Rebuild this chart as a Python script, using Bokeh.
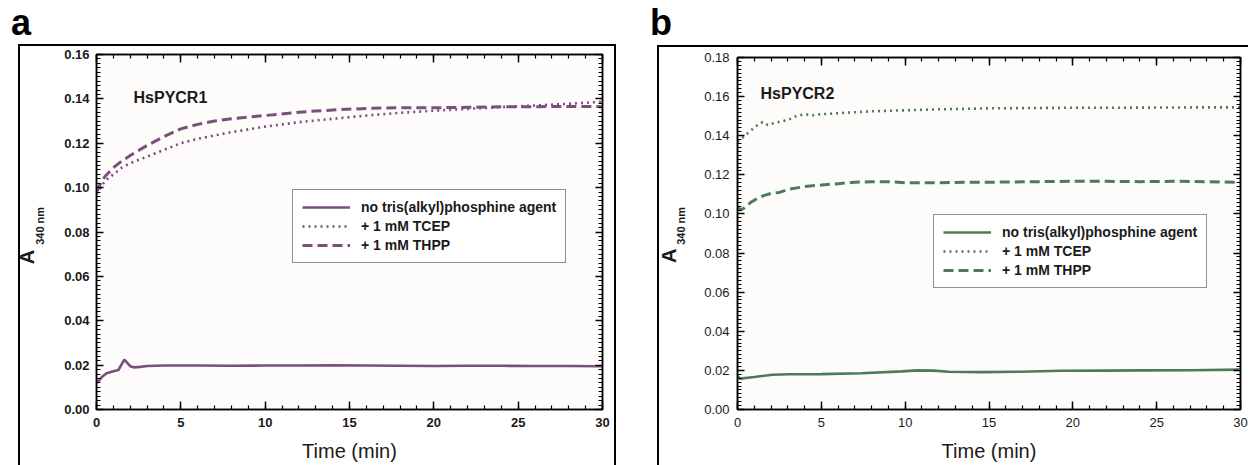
import numpy as np
from bokeh.plotting import figure
from bokeh.models import (LinearAxis, FixedTicker, NumeralTickFormatter, CustomJSTickFormatter,
                          Legend, LegendItem, Label, Range1d, Div)
from bokeh.layouts import row, column
from bokeh.embed import file_html
from bokeh.resources import INLINE

FONT = "Liberation Sans"
NB = "\u00a0"

# ---------------- data ----------------
x_ticks = [0, 5, 10, 15, 20, 25, 30]

# Panel a: HsPYCR1
a_none_t = [0, 0.3, 0.6, 1.0, 1.3, 1.65, 2.0, 2.2, 2.6, 3, 4, 6, 8, 10, 12, 14, 16, 18, 20, 22, 24, 26, 28, 30]
a_none_y = [0.0117, 0.0145, 0.0163, 0.0172, 0.0178, 0.0225, 0.0195, 0.019, 0.0192, 0.0196, 0.0198, 0.0198, 0.0197,
            0.0198, 0.0198, 0.0199, 0.0198, 0.0197, 0.0196, 0.0197, 0.0197, 0.0196, 0.0196, 0.0195]
a_tcep_t = [0, 0.25, 0.5, 1, 1.5, 2, 3, 4, 5, 6, 7, 8, 10, 12, 14, 16, 18, 20, 22, 24, 26, 28, 30]
a_tcep_y = [0.097, 0.100, 0.103, 0.106, 0.109, 0.111, 0.114, 0.117, 0.120, 0.122, 0.1235, 0.125, 0.1275,
            0.1295, 0.131, 0.1325, 0.1337, 0.1347, 0.1355, 0.1363, 0.137, 0.1378, 0.1387]
a_thpp_t = [0, 0.25, 0.5, 1, 1.5, 2, 3, 4, 5, 6, 7, 8, 10, 12, 14, 16, 18, 20, 22, 24, 26, 28, 30]
a_thpp_y = [0.098, 0.102, 0.105, 0.109, 0.112, 0.1145, 0.119, 0.123, 0.1265, 0.1285, 0.130, 0.131, 0.1325,
            0.134, 0.135, 0.1357, 0.136, 0.136, 0.1362, 0.1364, 0.1365, 0.1366, 0.1365]

# Panel b: HsPYCR2
b_none_t = [0, 0.17, 1.0, 2.1, 3.1, 5, 7.4, 9.8, 10.7, 11.7, 12.6, 14.6, 16.9, 19.3, 22, 24.1, 27, 30]
b_none_y = [0.0172, 0.0158, 0.0166, 0.0178, 0.018, 0.0181, 0.0185, 0.0195, 0.0200, 0.0199, 0.0193, 0.0191,
            0.0193, 0.0198, 0.0199, 0.0200, 0.0201, 0.0204]
b_tcep_t = [0, 0.3, 0.7, 1.2, 1.5, 1.8, 2.2, 3, 3.5, 4, 4.5, 5, 6, 7, 8, 10, 12, 15, 18, 20, 22, 25, 28, 30]
b_tcep_y = [0.137, 0.139, 0.142, 0.1455, 0.147, 0.1455, 0.1465, 0.148, 0.150, 0.151, 0.1505, 0.151, 0.1515,
            0.152, 0.1525, 0.153, 0.1535, 0.154, 0.1542, 0.1543, 0.1543, 0.1544, 0.1545, 0.1545]
b_thpp_t = [0, 0.15, 0.4, 0.8, 1.2, 1.6, 2, 2.5, 3, 4, 5, 6, 7, 8, 9, 10, 12, 14, 16, 18, 20, 22, 24, 26, 28, 30]
b_thpp_y = [0.104, 0.102, 0.103, 0.106, 0.108, 0.1095, 0.1105, 0.111, 0.1125, 0.114, 0.1148, 0.1155, 0.1162,
            0.1165, 0.1165, 0.116, 0.116, 0.1162, 0.1163, 0.1165, 0.1167, 0.1167, 0.1165, 0.1167, 0.1165, 0.1162]

legend_labels = ["no tris(alkyl)phosphine agent", "+ 1 mM TCEP", "+ 1 mM THPP"]

PURPLE = "#7a4f7c"
GREEN = "#4f7a59"
FIG_H = 421   # figure sits below a 44px letter strip


def style_axis(ax, major_in, minor_in, show_labels, bold, fmt=None, standoff=7):
    ax.axis_line_color = "black"
    ax.axis_line_width = 1.5
    ax.major_tick_in = major_in
    ax.major_tick_out = 0
    ax.minor_tick_in = minor_in
    ax.minor_tick_out = 0
    ax.major_tick_line_color = "black"
    ax.major_tick_line_width = 1.5
    ax.minor_tick_line_color = "black"
    ax.minor_tick_line_width = 1.2
    ax.major_label_text_font = FONT
    ax.major_label_text_font_size = "13px"
    ax.major_label_text_font_style = "bold" if bold else "normal"
    ax.major_label_text_color = "#1a1a1a"
    ax.axis_label = None
    if show_labels:
        ax.major_label_standoff = standoff
        if fmt is not None:
            ax.formatter = fmt
    else:
        ax.major_label_standoff = 0
        ax.major_label_text_font_size = "1px"
        ax.formatter = CustomJSTickFormatter(code="return ''")


def label_axis(text, size, standoff):
    ax = LinearAxis(ticker=FixedTicker(ticks=[], minor_ticks=[]))
    ax.axis_line_color = None
    ax.major_tick_line_color = None
    ax.minor_tick_line_color = None
    ax.major_tick_in = 0
    ax.major_tick_out = 0
    ax.minor_tick_in = 0
    ax.minor_tick_out = 0
    ax.major_label_standoff = 0
    ax.major_label_text_font_size = "1px"
    ax.axis_label = text
    ax.axis_label_text_font = FONT
    ax.axis_label_text_font_size = size
    ax.axis_label_text_font_style = "bold"
    ax.axis_label_text_color = "#1a1a1a"
    ax.axis_label_standoff = standoff
    return ax


def make_panel(title, ymax, series, color, borders, frame_css, title_xy,
               legend_loc, bold_ticks, ytick_standoff, sub_pad, sub_standoff, a_pad, a_standoff):
    bl, br, bt, bb = borders
    p = figure(width=624, height=FIG_H, x_range=Range1d(0, 30), y_range=Range1d(0, ymax),
               output_backend="svg", toolbar_location=None,
               min_border_left=bl, min_border_right=br, min_border_top=bt, min_border_bottom=bb)
    p.xgrid.visible = False
    p.ygrid.visible = False
    p.background_fill_color = "#fdfcfb"
    p.border_fill_color = None
    p.outline_line_color = "black"
    p.outline_line_width = 1.5
    p.styles = frame_css

    xt = FixedTicker(ticks=x_ticks, minor_ticks=list(range(0, 31)))
    yt_major = [round(v, 3) for v in np.arange(0, ymax + 1e-9, 0.02)]
    yt_minor = [round(v, 4) for v in np.arange(0, ymax + 1e-9, 0.002)]
    yt = FixedTicker(ticks=yt_major, minor_ticks=yt_minor)

    p.xaxis.ticker = xt
    p.yaxis.ticker = yt
    xa = p.xaxis[0]
    style_axis(xa, 8, 4, True, bold_ticks, standoff=8)
    xa.axis_label = "Time (min)"
    xa.axis_label_text_font = FONT
    xa.axis_label_text_font_size = "20px"
    xa.axis_label_text_font_style = "normal"
    xa.axis_label_text_color = "#1a1a1a"
    xa.axis_label_standoff = 10
    style_axis(p.yaxis[0], 7, 4, True, bold_ticks, NumeralTickFormatter(format="0.00"),
               standoff=ytick_standoff)

    # y-axis title "A" with subscript "340 nm", stacked as two label-only axes
    p.add_layout(label_axis(NB * sub_pad + "340 nm", "11px", sub_standoff), "left")
    p.add_layout(label_axis("A" + NB * a_pad, "20px", a_standoff), "left")

    top = LinearAxis(ticker=xt)
    style_axis(top, 8, 4, False, bold_ticks)
    p.add_layout(top, "above")
    right = LinearAxis(ticker=yt)
    style_axis(right, 7, 4, False, bold_ticks)
    p.add_layout(right, "right")

    (t0, y0), (t1, y1), (t2, y2) = series
    r0 = p.line(t0, y0, line_color=color, line_width=2.6)
    r1 = p.line(t1, y1, line_color=color, line_width=2.6, line_dash="2 4")
    r2 = p.line(t2, y2, line_color=color, line_width=3, line_dash="10 5")

    leg = Legend(items=[LegendItem(label=legend_labels[0], renderers=[r0]),
                        LegendItem(label=legend_labels[1], renderers=[r1]),
                        LegendItem(label=legend_labels[2], renderers=[r2])],
                 location=legend_loc, orientation="vertical")
    leg.border_line_color = "#222222"
    leg.border_line_width = 1.2
    leg.background_fill_color = "white"
    leg.background_fill_alpha = 1
    leg.label_text_font = FONT
    leg.label_text_font_size = "14px"
    leg.label_text_font_style = "bold"
    leg.label_text_color = "#1a1a1a"
    leg.glyph_width = 48
    leg.glyph_height = 16
    leg.label_height = 16
    leg.label_standoff = 11
    leg.spacing = 3
    leg.padding = 9
    leg.margin = 0
    p.add_layout(leg, "center")

    p.add_layout(Label(x=title_xy[0], y=title_xy[1], x_units="canvas", y_units="canvas", text=title,
                       text_font=FONT, text_font_size="16px", text_font_style="bold",
                       text_color="#1a1a1a", text_baseline="alphabetic", text_align="left"))
    return p


def frame_styles(left, top, right_end, width):
    g = "linear-gradient(#000,#000)"
    imgs = [g, g]
    sizes = [f"2px {FIG_H}px", f"{right_end - left}px 2px"]
    pos = [f"{left}px {top}px", f"{left}px {top}px"]
    if right_end < width:
        imgs.append(g)
        sizes.append(f"2px {FIG_H}px")
        pos.append(f"{right_end - 2}px {top}px")
    return {"background-color": "white",
            "background-image": ", ".join(imgs),
            "background-size": ", ".join(sizes),
            "background-position": ", ".join(pos),
            "background-repeat": "no-repeat"}


def letter_div(letter, pad_left):
    html = (f'<div style="font-family: \'{FONT}\', Arial, sans-serif; font-weight: bold; '
            f'font-size: 36px; line-height: 36px; padding-left: {pad_left}px; padding-top: 5px; '
            f'color: #000; margin: 0;">{letter}</div>')
    return Div(text=html, width=624, height=44, margin=0,
               styles={"background-color": "white", "overflow": "hidden"})


pa = make_panel("HsPYCR1", 0.16,
                [(a_none_t, a_none_y), (a_tcep_t, a_tcep_y), (a_thpp_t, a_thpp_y)], PURPLE,
                (96, 22, 10, 56), frame_styles(18, 0, 616, 624), (133, 53), (196, 146), True,
                7, 4, 16, 9, -7)
pb = make_panel("HsPYCR2", 0.18,
                [(b_none_t, b_none_y), (b_tcep_t, b_tcep_y), (b_thpp_t, b_thpp_y)], GREEN,
                (113, 8, 13, 56), frame_styles(33, 1, 700, 624), (136, 49), (196, 121), False,
                8, 5, 15, 8, -8)

layout = row(column(letter_div("a", 11), pa), column(letter_div("b", 26), pb))
open("out.html", "w").write(file_html(layout, INLINE))
